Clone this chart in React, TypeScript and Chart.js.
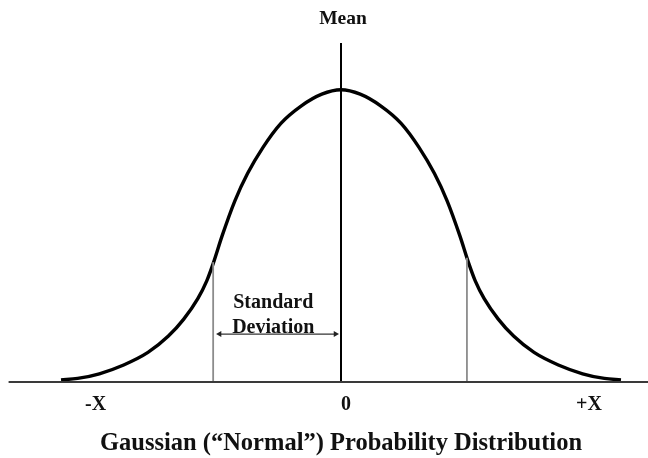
import React, { useEffect, useRef } from "react";
import { Chart, registerables } from "chart.js";

Chart.register(...registerables);

// Curve: x in standard-deviation units (mean = 0), y relative to the peak (peak = 1)
const curveX = [
  -2.19, -2.06, -1.89, -1.7, -1.51, -1.35, -1.23, -1.12, -1.05, -1.0, -0.93, -0.83, -0.73, -0.61, -0.47, -0.31, -0.15,
  0,
  0.15, 0.31, 0.47, 0.61, 0.73, 0.83, 0.93, 1.0, 1.05, 1.12, 1.23, 1.35, 1.51, 1.7, 1.89, 2.06, 2.19,
];
const curveY = [
  0.007, 0.012, 0.028, 0.058, 0.101, 0.157, 0.215, 0.285, 0.346, 0.405, 0.5, 0.62, 0.714, 0.803, 0.885, 0.945, 0.985,
  1.0,
  0.985, 0.945, 0.885, 0.803, 0.714, 0.62, 0.5, 0.405, 0.346, 0.285, 0.215, 0.157, 0.101, 0.058, 0.028, 0.012, 0.007,
];

const xMin = -2.37;
const xMax = 2.37;
const yMax = 1.16;

const baselineX = [-2.6, 2.41];
const meanX = 0;
const stdDevX = [-1.0, 0.985];
const stdDevTop = [0.41, 0.425];
const arrowX = [-0.95, -0.043];
const arrowY = 0.164;

const xTickValues = [-1.92, 0.04, 1.94];
const xTickLabels = ["-X", "0", "+X"];

const topLabel = "Mean";
const axisTitle = "Gaussian (\u201CNormal\u201D) Probability Distribution";
const noteLines = ["Standard", "Deviation"];
const noteX = -0.53;
const noteY = [0.253, 0.168];

const FONT = '"Liberation Serif", "Times New Roman", serif';

export default function App() {
  const canvasRef = useRef<HTMLCanvasElement | null>(null);

  useEffect(() => {
    const canvas = canvasRef.current;
    if (!canvas) return;

    const notePlugin = {
      id: "sdNote",
      afterDatasetsDraw(chart: any) {
        const { ctx, scales } = chart;
        ctx.save();
        ctx.font = `bold 20px ${FONT}`;
        ctx.fillStyle = "#111";
        ctx.textAlign = "center";
        ctx.textBaseline = "alphabetic";
        noteLines.forEach((t, i) => {
          ctx.fillText(t, scales.x.getPixelForValue(noteX), scales.y.getPixelForValue(noteY[i]));
        });
        ctx.restore();
      },
    };

    const chart = new Chart(canvas, {
      type: "line",
      data: {
        datasets: [
          {
            label: "baseline",
            data: baselineX.map((x) => ({ x, y: 0 })),
            borderColor: "#3a3a3a",
            borderWidth: 2,
            pointRadius: 0,
            clip: false as any,
          },
          {
            label: "sd-left",
            data: [
              { x: stdDevX[0], y: 0 },
              { x: stdDevX[0], y: stdDevTop[0] },
            ],
            borderColor: "#8c8c8c",
            borderWidth: 1.8,
            pointRadius: 0,
          },
          {
            label: "sd-right",
            data: [
              { x: stdDevX[1], y: 0 },
              { x: stdDevX[1], y: stdDevTop[1] },
            ],
            borderColor: "#8c8c8c",
            borderWidth: 1.8,
            pointRadius: 0,
          },
          {
            label: "arrow",
            data: arrowX.map((x) => ({ x, y: arrowY })),
            borderColor: "#333",
            borderWidth: 1.3,
            pointStyle: "triangle",
            pointRadius: 3.5,
            pointRotation: [-90, 90] as any,
            pointBackgroundColor: "#222",
            pointBorderColor: "#222",
            pointBorderWidth: 0,
          },
          {
            label: "curve",
            data: curveX.map((x, i) => ({ x, y: curveY[i] })),
            borderColor: "#000",
            borderWidth: 3.4,
            pointRadius: 0,
            cubicInterpolationMode: "monotone",
            clip: false as any,
          },
          {
            label: "mean",
            data: [
              { x: meanX, y: 0 },
              { x: meanX, y: yMax },
            ],
            borderColor: "#000",
            borderWidth: 2,
            pointRadius: 0,
            clip: false as any,
          },
        ],
      },
      options: {
        animation: false,
        responsive: false,
        events: [],
        layout: { padding: { left: 38, right: 0, top: 0, bottom: 0 } },
        plugins: {
          legend: { display: false },
          tooltip: { enabled: false },
          title: {
            display: true,
            text: topLabel,
            color: "#111",
            font: { family: FONT, size: 19.5, weight: "bold", lineHeight: 1.2 },
            padding: { top: 7.7, bottom: 11.9 },
          },
        },
        scales: {
          x: {
            type: "linear",
            min: xMin,
            max: xMax,
            display: true,
            grid: { display: false, drawTicks: false, tickLength: 0 },
            border: { display: false },
            afterBuildTicks: (scale: any) => {
              scale.ticks = xTickValues.map((v) => ({ value: v }));
            },
            ticks: {
              autoSkip: false,
              maxRotation: 0,
              padding: 11.25,
              color: "#111",
              font: { family: FONT, size: 20, weight: "bold", lineHeight: 1.2 },
              callback: (_v: any, i: number) => xTickLabels[i],
            },
            title: {
              display: true,
              text: axisTitle,
              color: "#111",
              font: { family: FONT, size: 24.5, weight: "bold", lineHeight: 1.2 },
              padding: { top: 0.15, bottom: 0 },
            },
          },
          y: {
            type: "linear",
            min: 0,
            max: yMax,
            display: false,
          },
        },
      },
      plugins: [notePlugin],
    });

    return () => chart.destroy();
  }, []);

  return (
    <div style={{ position: "absolute", left: 0, top: 0, width: 648, height: 458, background: "#fff" }}>
      <canvas ref={canvasRef} width={648} height={458} />
    </div>
  );
}
